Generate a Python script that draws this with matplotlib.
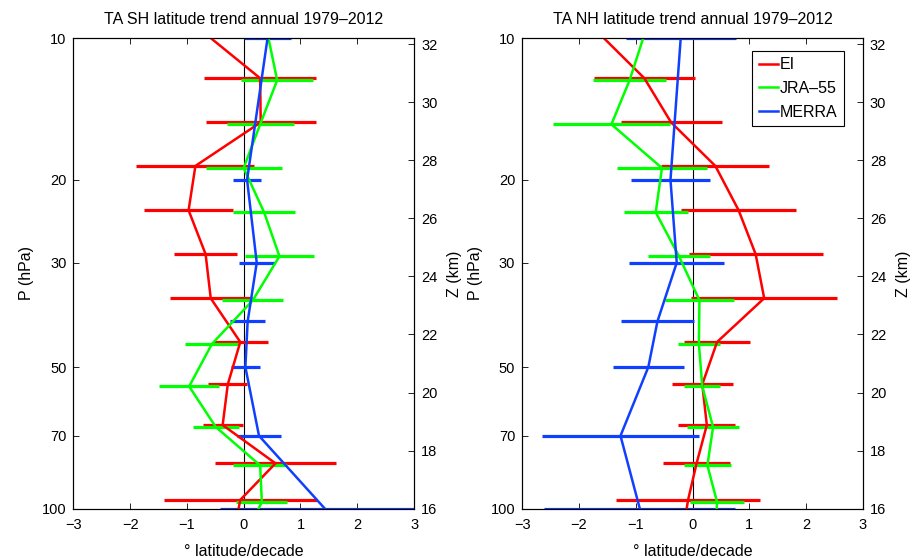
import numpy as np
import matplotlib
matplotlib.use("Agg")
import matplotlib.pyplot as plt
from matplotlib.ticker import FixedLocator, FixedFormatter, NullLocator

plt.rcParams['font.family'] = ['Liberation Sans', 'DejaVu Sans']
plt.rcParams['font.size'] = 10.5

############### DATA ###############

# EI / JRA-55 on their own levels (JRA nudged a touch so the bars don't overlap)
p_ei = [9.81, 12.16, 15.09, 18.68, 23.21, 28.78, 35.70, 44.23, 54.43, 66.4, 80.1, 95.8, 113.7]
p_jra = [9.91, 12.28, 15.24, 18.87, 23.44, 29.07, 36.06, 44.67, 54.97, 67.06, 80.9, 96.76, 114.8]
p_merra = [10, 20, 30, 40, 50, 70, 100]

# SH trends (deg latitude / decade) and 2-sigma half widths
sh_ei = [-0.66, 0.29, 0.30, -0.85, -0.97, -0.67, -0.58, -0.06, -0.28, -0.37, 0.56, -0.06, -0.18]
sh_ei_err = [1.0, 0.99, 0.97, 1.04, 0.79, 0.56, 0.72, 0.48, 0.34, 0.35, 1.06, 1.35, 1.0]
sh_jra = [0.43, 0.59, 0.29, 0.0, 0.36, 0.63, 0.16, -0.56, -0.96, -0.49, 0.29, 0.32, 0.02]
sh_jra_err = [0.6, 0.63, 0.59, 0.67, 0.54, 0.61, 0.54, 0.48, 0.53, 0.40, 0.48, 0.45, 0.5]
sh_merra = [0.42, 0.06, 0.23, 0.07, 0.03, 0.27, 1.43]
sh_merra_err = [0.42, 0.25, 0.32, 0.31, 0.26, 0.39, 1.85]

# NH trends
nh_ei = [-1.63, -0.85, -0.38, 0.40, 0.81, 1.11, 1.26, 0.43, 0.17, 0.25, 0.07, -0.08, -0.18]
nh_ei_err = [0.9, 0.89, 0.89, 0.95, 1.01, 1.18, 1.29, 0.58, 0.54, 0.50, 0.59, 1.27, 1.0]
nh_jra = [-0.86, -1.11, -1.43, -0.54, -0.65, -0.24, 0.12, 0.11, 0.17, 0.36, 0.26, 0.43, 0.40]
nh_jra_err = [0.6, 0.64, 1.03, 0.79, 0.56, 0.55, 0.60, 0.37, 0.32, 0.46, 0.41, 0.48, 0.5]
nh_merra = [-0.21, -0.39, -0.28, -0.62, -0.78, -1.27, -0.93]
nh_merra_err = [0.97, 0.70, 0.84, 0.64, 0.63, 1.38, 1.68]

p_ticks = [10, 20, 30, 50, 70, 100]
z_ticks = list(range(16, 33, 2))
x_ticks = [-3, -2, -1, 0, 1, 2, 3]

c_ei = '#ff0000'
c_jra = '#00ff00'
c_merra = '#1040ff'

########################################


def panel(rect, title, ei, ei_err, jra, jra_err, merra, merra_err, legend=False):
  ax = fig.add_axes(rect)
  ax.axvline(0, color='k', lw=0.8, zorder=1)
  handles = []
  for x, err, p, col, lab in [(ei, ei_err, p_ei, c_ei, 'EI'),
                              (jra, jra_err, p_jra, c_jra, 'JRA\u201355'),
                              (merra, merra_err, p_merra, c_merra, 'MERRA')]:
    ax.errorbar(x, p, xerr=err, fmt='none', ecolor=col, elinewidth=2.3, capsize=0, zorder=2)
    ln, = ax.plot(x, p, color=col, lw=1.8, label=lab, zorder=3)
    handles.append(ln)
  ax.set_yscale('log')
  ax.set_ylim(100, 10)
  ax.set_xlim(-3, 3)
  ax.yaxis.set_major_locator(FixedLocator(p_ticks))
  ax.yaxis.set_major_formatter(FixedFormatter([str(t) for t in p_ticks]))
  ax.yaxis.set_minor_locator(NullLocator())
  ax.set_xticks(x_ticks)
  ax.set_xticklabels(['\u2212%d' % -t if t < 0 else '%d' % t for t in x_ticks])
  ax.tick_params(direction='in', length=4, width=0.6, labelsize=10.5, pad=5, top=True)
  ax.tick_params(axis='x', pad=7)
  ax.set_title(title, fontsize=11.5, pad=10)
  ax.set_ylabel('P (hPa)', fontsize=11.5, labelpad=5.5)
  ax.set_xlabel('\u00b0 latitude/decade', fontsize=11.5, labelpad=8)
  for s in ax.spines.values():
    s.set_linewidth(0.8)

  az = ax.twinx()
  az.set_ylim(16, 32.2)
  az.set_yticks(z_ticks)
  az.set_yticklabels([str(z) for z in z_ticks])
  az.tick_params(direction='in', length=4, width=0.6, labelsize=10.5, pad=5)
  az.set_ylabel('Z (km)', fontsize=11.5, rotation=90, labelpad=7)
  az.spines['right'].set_linewidth(0.8)

  if legend:
    leg = ax.legend(handles=handles, loc='upper right', bbox_to_anchor=(0.944, 0.974),
                    borderaxespad=0, fancybox=False, framealpha=1, edgecolor='k',
                    fontsize=11.5, handlelength=1.2, handletextpad=0.1, borderpad=0.42,
                    labelspacing=0.55)
    leg.get_frame().set_linewidth(0.8)
  return ax


fig = plt.figure(figsize=(9.14, 5.58), dpi=100)
panel([0.0802, 0.0884, 0.3728, 0.843], 'TA SH latitude trend annual 1979\u20132012',
      sh_ei, sh_ei_err, sh_jra, sh_jra_err, sh_merra, sh_merra_err)
panel([0.5714, 0.0884, 0.3728, 0.843], 'TA NH latitude trend annual 1979\u20132012',
      nh_ei, nh_ei_err, nh_jra, nh_jra_err, nh_merra, nh_merra_err, legend=True)

plt.savefig('out.png', dpi=100)
